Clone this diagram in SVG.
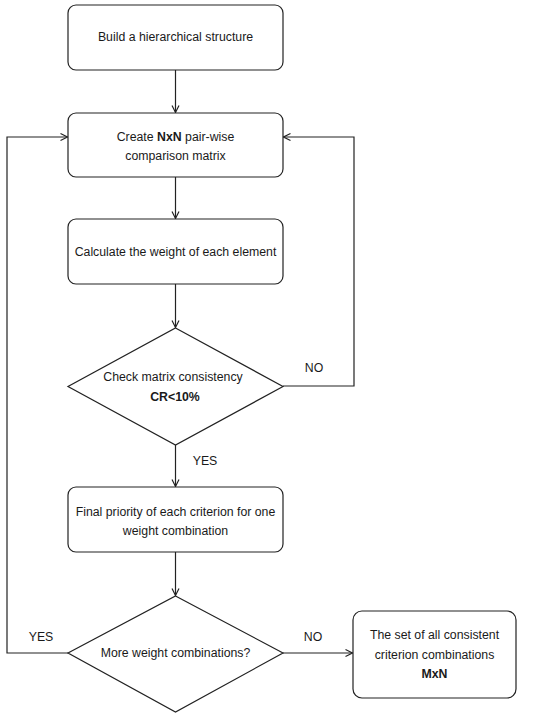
<svg xmlns="http://www.w3.org/2000/svg" width="550" height="719" viewBox="0 0 550 719">
<style>
.box{fill:#fff;stroke:#222;stroke-width:1.2}
.t{font-family:"Liberation Sans",Arial,sans-serif;font-size:12.3px;fill:#1a1a1a;text-anchor:middle}
.b{font-weight:bold}
.c{fill:none;stroke:#222;stroke-width:1.2}
</style>
<defs>
<marker id="arr" viewBox="0 0 10 10" refX="9" refY="5" markerWidth="10" markerHeight="10" markerUnits="userSpaceOnUse" orient="auto">
<path d="M2,1.5 L9,5 L2,8.5" fill="none" stroke="#222" stroke-width="1.2"/>
</marker>
</defs>
<rect width="550" height="719" fill="#fff"/>
<g id="connectors">
<line class="c" x1="175.5" y1="70" x2="175.5" y2="112.5" marker-end="url(#arr)"/>
<line class="c" x1="175.5" y1="177" x2="175.5" y2="218.5" marker-end="url(#arr)"/>
<line class="c" x1="175.5" y1="284" x2="175.5" y2="327.5" marker-end="url(#arr)"/>
<line class="c" x1="175.5" y1="445" x2="175.5" y2="486.5" marker-end="url(#arr)"/>
<line class="c" x1="175.5" y1="552" x2="175.5" y2="595.5" marker-end="url(#arr)"/>
<polyline class="c" points="283,386 354,386 354,137 283.5,137" marker-end="url(#arr)"/>
<polyline class="c" points="68,653 7,653 7,137 67.5,137" marker-end="url(#arr)"/>
<line class="c" x1="283" y1="653" x2="352.5" y2="653" marker-end="url(#arr)"/>
<text class="t" x="314" y="372">NO</text>
<text class="t" x="205" y="465">YES</text>
<text class="t" x="41" y="641">YES</text>
<text class="t" x="313" y="641">NO</text>
</g>
<g id="n1">
<rect class="box" x="68" y="5" width="215" height="65" rx="8"/>
<text class="t" x="175.5" y="41">Build a hierarchical structure</text>
</g>
<g id="n2">
<rect class="box" x="68" y="113" width="215" height="64" rx="8"/>
<text class="t" x="175.5" y="140.5">Create <tspan class="b">NxN</tspan> pair-wise</text>
<text class="t" x="175.5" y="159.5">comparison matrix</text>
</g>
<g id="n3">
<rect class="box" x="68" y="219" width="215" height="65" rx="8"/>
<text class="t" x="175.5" y="256">Calculate the weight of each element</text>
</g>
<g id="n4">
<polygon class="box" points="175.5,328 283,386.5 175.5,445 68,386.5"/>
<text class="t" x="173" y="381">Check matrix consistency</text>
<text class="t b" x="175" y="401">CR&lt;10%</text>
</g>
<g id="n5">
<rect class="box" x="68" y="487" width="215" height="65" rx="8"/>
<text class="t" x="175.5" y="516">Final priority of each criterion for one</text>
<text class="t" x="175.5" y="535">weight combination</text>
</g>
<g id="n6">
<polygon class="box" points="175.5,596 283,653 175.5,712 68,653"/>
<text class="t" x="175.5" y="657">More weight combinations?</text>
</g>
<g id="n7">
<rect class="box" x="353" y="611" width="163" height="87" rx="9"/>
<text class="t" x="434.5" y="639">The set of all consistent</text>
<text class="t" x="434.5" y="659">criterion combinations</text>
<text class="t b" x="434.5" y="678">MxN</text>
</g>
</svg>
